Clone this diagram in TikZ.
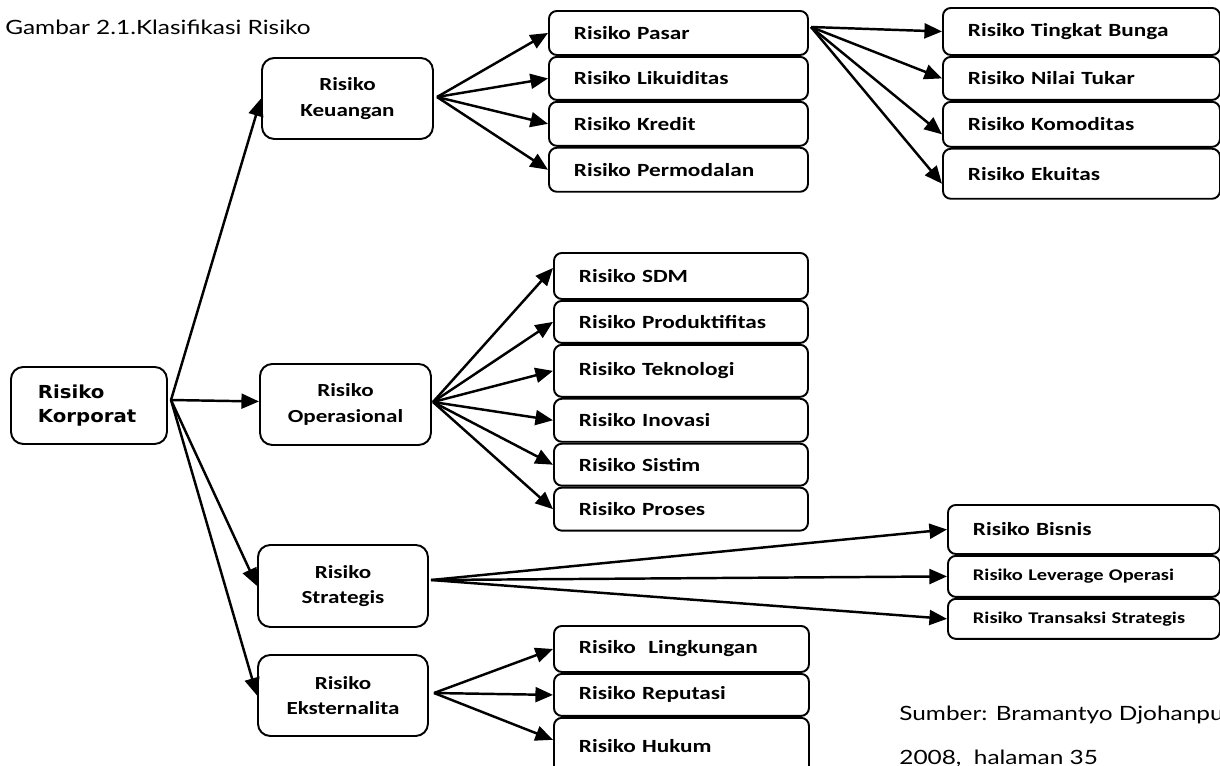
\documentclass[tikz,border=0pt]{standalone}
\usepackage{fontspec}
\usetikzlibrary{arrows.meta, positioning}
\newfontfamily\fontKotak[FakeStretch=1.25]{Carlito}
\newfontfamily\fontAkar[FakeStretch=1.1]{DejaVu Sans}
\newfontfamily\fontJudul[FakeStretch=1.24]{Lato}
\newdimen\px \px=0.02cm

\begin{document}
\begin{tikzpicture}[x=0.02cm, y=-0.02cm,
        akar/.style={draw, line width=1.1pt, rounded corners=7pt, anchor=north west, align=left,
                     font=\fontAkar\bfseries\fontsize{10.2}{13.6}\selectfont,
                     inner xsep=27\px, text width=102\px, minimum height=77\px},
        induk/.style={draw, line width=1.1pt, rounded corners=7pt, anchor=north west, align=center,
                      font=\fontKotak\bfseries\fontsize{10.5}{14.5}\selectfont,
                      minimum width=171\px, minimum height=81\px},
        anak/.style={draw, line width=1.1pt, rounded corners=4.5pt, anchor=north west, align=left,
                     font=\fontKotak\bfseries\fontsize{10.6}{12}\selectfont,
                     inner xsep=25\px, inner ysep=0pt, text width=#1},
        kecil/.style={font=\fontKotak\bfseries\fontsize{9.3}{11}\selectfont},
        panah/.style={-{Triangle[length=10pt, width=8.5pt]}, line width=1.4pt},
        catatan/.style={anchor=north west, inner sep=0pt, align=left,
                        font=\fontJudul\fontsize{11.2}{25}\selectfont}]
  \useasboundingbox (0,0) rectangle (1220,765);
  \fill[white] (0,0) rectangle (1220,765);
  \clip (0,0) rectangle (1220,765);

  \node[catatan] (judul) at (5,20) {Gambar 2.1.Klasifikasi Risiko};
  \node[catatan] (sumber) at (899,706) {Sumber: Bramantyo Djohanputro,\\2008,\ \ halaman 35};

  % kolom pertama
  \node[akar] (kor) at (10,366) {Risiko\\Korporat};
  \node[induk] (keu) at (261,57) {Risiko\\Keuangan};
  \node[induk] (ope) at (259,363) {Risiko\\Operasional};
  \node[induk, minimum width=170\px, minimum height=82\px] (str) at (257,544) {Risiko\\Strategis};
  \node[induk, minimum width=170\px] (eks) at (257,654) {Risiko\\Eksternalita};

  % risiko keuangan
  \node[anak=209\px, minimum height=44\px] (pas) at (548,10) {Risiko Pasar};
  \node[anak=209\px, minimum height=43\px, below=0pt of pas] (lik) {Risiko Likuiditas};
  \node[anak=209\px, minimum height=44\px, below=0pt of lik] (kre) {Risiko Kredit};
  \node[anak=209\px, minimum height=44\px, below=0pt of kre] (per) {Risiko Permodalan};

  % risiko pasar
  \node[anak=227\px, minimum height=47\px] (tin) at (942,7) {Risiko Tingkat Bunga};
  \node[anak=227\px, minimum height=43\px, below=0pt of tin] (nil) {Risiko Nilai Tukar};
  \node[anak=227\px, minimum height=45\px, below=0pt of nil] (kom) {Risiko Komoditas};
  \node[anak=227\px, minimum height=50\px, below=0pt of kom] (eku) {Risiko Ekuitas};

  % risiko operasional
  \node[anak=204\px, minimum height=46\px] (sdm) at (553,252) {Risiko SDM};
  \node[anak=204\px, minimum height=42\px, below=0pt of sdm] (pro) {Risiko Produktifitas};
  \node[anak=204\px, minimum height=52\px, below=0pt of pro] (tek) {Risiko Teknologi};
  \node[anak=204\px, minimum height=43\px, below=0pt of tek] (ino) {Risiko Inovasi};
  \node[anak=204\px, minimum height=42\px, below=0pt of ino] (sis) {Risiko Sistim};
  \node[anak=204\px, minimum height=43\px, below=0pt of sis] (prs) {Risiko Proses};

  % risiko strategis
  \node[anak=222\px, minimum height=49\px] (bis) at (947,504) {Risiko Bisnis};
  \node[anak=222\px, kecil, minimum height=41\px, below=0pt of bis] (lev) {Risiko Leverage Operasi};
  \node[anak=222\px, kecil, minimum height=40\px, below=0pt of lev] (tra) {Risiko Transaksi Strategis};

  % risiko eksternalita
  \node[anak=205\px, minimum height=46\px] (lin) at (553,625) {Risiko\ \ Lingkungan};
  \node[anak=205\px, minimum height=42\px, below=0pt of lin] (rep) {Risiko Reputasi};
  \node[anak=205\px, minimum height=56\px, below=0pt of rep] (huk) {Risiko Hukum};

  % titik cabang
  \coordinate (korH) at (171,400);
  \coordinate (keuH) at (437,97);
  \coordinate (pasH) at (811,27);
  \coordinate (opeH) at (433,402);
  \coordinate (strH) at (431,580);
  \coordinate (eksH) at (434,693);

  \foreach \n in {keu,str,eks} \draw[panah] (korH) -- (\n.west);
  \draw[panah] (korH) -- ([yshift=3\px]ope.west);
  \foreach \n in {pas,lik,kre,per} \draw[panah] (keuH) -- (\n.west);
  \draw[panah] (pasH) -- (tin.west);
  \draw[panah] (pasH) -- (nil.west);
  \draw[panah] (pasH) -- ([yshift=-10\px]kom.west);
  \draw[panah] (pasH) -- ([yshift=-10\px]eku.west);
  \draw[panah] (opeH) -- ([yshift=8\px]sdm.west);
  \foreach \n in {pro,tek,ino,sis,prs} \draw[panah] (opeH) -- (\n.west);
  \foreach \n in {bis,lev,tra} \draw[panah] (strH) -- (\n.west);
  \draw[panah] (eksH) -- (lin.west);
  \draw[panah] (eksH) -- (rep.west);
  \draw[panah] (eksH) -- ([yshift=6\px]huk.west);
\end{tikzpicture}
\end{document}
